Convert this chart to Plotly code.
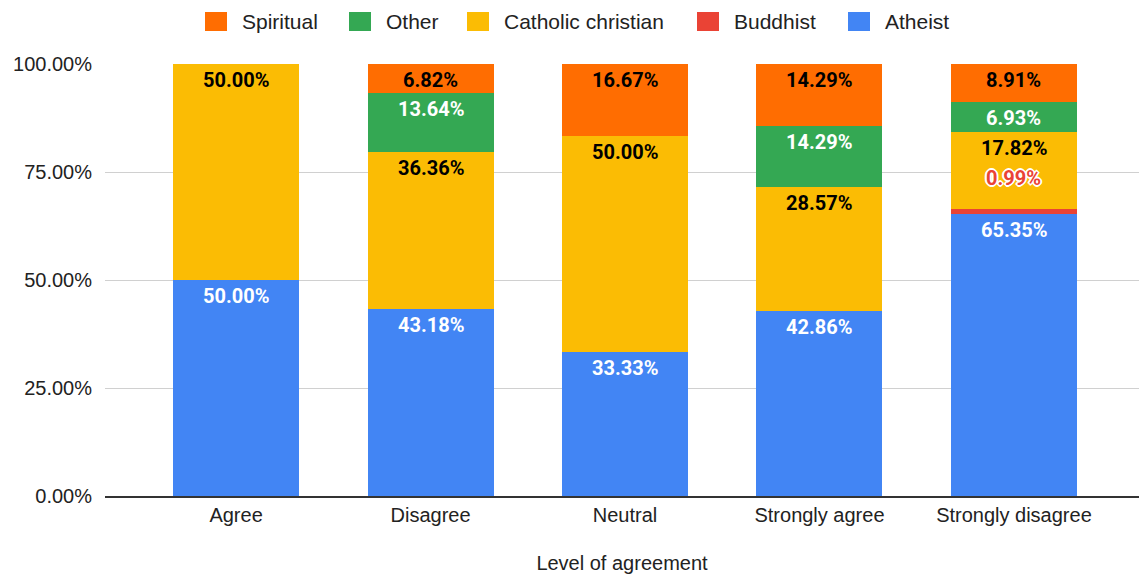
import plotly.graph_objects as go

categories = ["Agree", "Disagree", "Neutral", "Strongly agree", "Strongly disagree"]

atheist = [50.00, 43.18, 33.33, 42.86, 65.35]
buddhist = [None, None, None, None, 0.99]
catholic = [50.00, 36.36, 50.00, 28.57, 17.82]
other = [None, 13.64, None, 14.29, 6.93]
spiritual = [None, 6.82, 16.67, 14.29, 8.91]

y_ticks = [0, 25, 50, 75, 100]

# name, values, fill colour, label colour (stacked bottom to top)
series = [
    ("Atheist", atheist, "#4285F4", "#FFFFFF"),
    ("Buddhist", buddhist, "#EA4335", "#EA4335"),
    ("Catholic christian", catholic, "#FBBC04", "#000000"),
    ("Other", other, "#34A853", "#FFFFFF"),
    ("Spiritual", spiritual, "#FF6D01", "#000000"),
]

label_font = "Roboto, Arial, sans-serif"
axis_font = "Liberation Sans, Arial, sans-serif"
text_color = "#222222"

W, H = 1139, 578
M_L, M_R, M_T, M_B = 105, 0, 64, 82
PW, PH = W - M_L - M_R, H - M_T - M_B
Y_MAX = 100


def px_x(px):
    return (px - M_L) / PW


def px_y(py):
    return (H - M_B - py) / PH


fig = go.Figure()
cum = [0.0] * len(categories)
annotations = []
for name, vals, color, txt_color in series:
    fig.add_trace(go.Bar(
        name=name,
        x=categories,
        y=vals,
        marker=dict(color=color, line=dict(width=0)),
        width=0.648,
        hoverinfo="skip",
        showlegend=False,
    ))
    for i, v in enumerate(vals):
        if v is None:
            continue
        top = cum[i] + v
        cum[i] = top
        thin = v < 3
        font = dict(family=label_font, size=20, color=txt_color)
        if thin:
            font["shadow"] = ("-1px -1px 0 #fff, 1px -1px 0 #fff, -1px 1px 0 #fff, "
                              "1px 1px 0 #fff, 0 2px 0 #fff, 0 -2px 0 #fff, "
                              "2px 0 0 #fff, -2px 0 0 #fff")
        annotations.append(dict(
            # rounding can push a stack a hair past 100%; keep the label anchor on the axis
            x=categories[i], y=min(top, Y_MAX), xref="x", yref="y",
            text=f"<b>{v:.2f}%</b>",
            showarrow=False, yanchor="middle",
            yshift=31 if thin else -16,
            font=font,
        ))

# Legend row across the top (Spiritual first)
legend_items = [
    ("Spiritual", "#FF6D01", 205),
    ("Other", "#34A853", 349),
    ("Catholic christian", "#FBBC04", 467),
    ("Buddhist", "#EA4335", 697),
    ("Atheist", "#4285F4", 848),
]
shapes = []
for name, color, left in legend_items:
    shapes.append(dict(
        type="rect", xref="paper", yref="paper",
        x0=px_x(left), x1=px_x(left + 22),
        y0=px_y(31), y1=px_y(12),
        fillcolor=color, line=dict(width=0), layer="above",
    ))
    annotations.append(dict(
        x=px_x(left + 35), y=px_y(21), xref="paper", yref="paper",
        xanchor="left", yanchor="middle", showarrow=False,
        text=name,
        font=dict(family=axis_font, size=21, color=text_color),
    ))

fig.update_layout(
    width=W, height=H,
    barmode="stack",
    plot_bgcolor="#FFFFFF",
    paper_bgcolor="#FFFFFF",
    margin=dict(l=M_L, r=M_R, t=M_T, b=M_B),
    font=dict(family=axis_font, size=20, color=text_color),
    showlegend=False,
    annotations=annotations,
    shapes=shapes,
    xaxis=dict(
        range=[-0.674, 4.643],
        showgrid=False,
        showline=True, linecolor="#333333", linewidth=1.5,
        ticks="", tickfont=dict(family=axis_font, size=20, color=text_color),
        title=dict(text="Level of agreement", standoff=31,
                   font=dict(family=axis_font, size=20, color=text_color)),
    ),
    yaxis=dict(
        range=[0, Y_MAX],
        tickvals=y_ticks,
        ticktext=[f"{t:.2f}%" for t in y_ticks],
        showgrid=True, gridcolor="#D0D0D0", gridwidth=1,
        zeroline=False,
        ticks="", ticklabelstandoff=12,
        tickfont=dict(family=axis_font, size=20, color=text_color),
    ),
)

fig.write_html("out.html")
